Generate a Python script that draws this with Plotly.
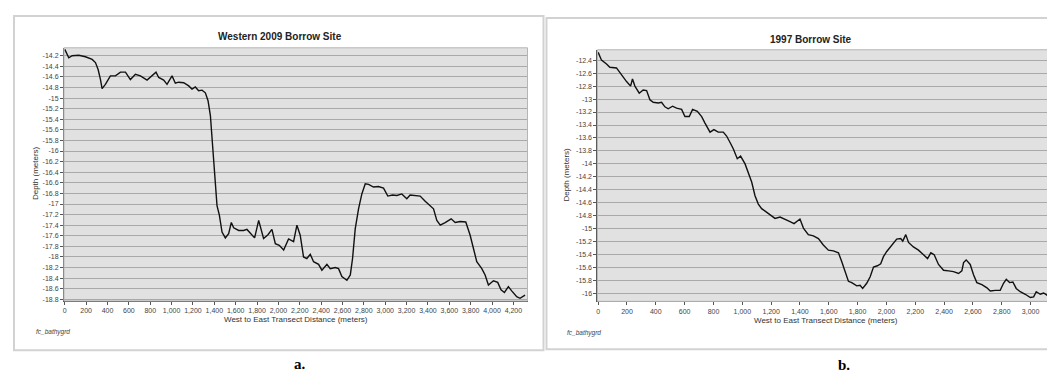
import plotly.graph_objects as go

# ---------------- data ----------------
dist_a = [0, 37, 69, 131, 193, 225, 256, 287, 312, 334, 349, 380, 427, 474, 521, 568,
          614, 661, 708, 770, 817, 854, 879, 926, 957, 1004, 1035, 1066, 1113, 1160,
          1191, 1222, 1253, 1285, 1316, 1341, 1363, 1378, 1394, 1410, 1425, 1447, 1472,
          1503, 1534, 1559, 1581, 1628, 1674, 1705, 1737, 1777, 1815, 1861, 1902, 1939,
          1971, 2008, 2049, 2095, 2142, 2173, 2204, 2235, 2266, 2298, 2329, 2376, 2407,
          2454, 2485, 2532, 2563, 2594, 2641, 2673, 2694, 2719, 2750, 2781, 2813, 2844,
          2890, 2937, 2984, 3024, 3068, 3109, 3155, 3202, 3233, 3280, 3327, 3374, 3421,
          3452, 3483, 3515, 3561, 3617, 3655, 3702, 3754, 3795, 3826, 3857, 3904, 3935,
          3966, 4013, 4053, 4084, 4116, 4153, 4184, 4231, 4262, 4309]
depth_a = [-14.08, -14.24, -14.20, -14.19, -14.22, -14.24, -14.27, -14.33, -14.46, -14.65,
           -14.82, -14.74, -14.58, -14.58, -14.51, -14.51, -14.65, -14.55, -14.58, -14.66,
           -14.58, -14.51, -14.61, -14.66, -14.74, -14.58, -14.72, -14.70, -14.71, -14.77,
           -14.83, -14.79, -14.86, -14.85, -14.90, -15.05, -15.33, -15.71, -16.15, -16.65,
           -17.03, -17.21, -17.53, -17.64, -17.56, -17.35, -17.45, -17.50, -17.50, -17.48,
           -17.56, -17.64, -17.31, -17.65, -17.58, -17.48, -17.75, -17.78, -17.87, -17.66,
           -17.71, -17.40, -17.59, -18.00, -18.03, -17.95, -18.09, -18.14, -18.25, -18.14,
           -18.22, -18.20, -18.22, -18.37, -18.44, -18.34, -18.03, -17.47, -17.09, -16.81,
           -16.62, -16.63, -16.68, -16.67, -16.70, -16.85, -16.83, -16.84, -16.81, -16.90,
           -16.83, -16.84, -16.85, -16.95, -17.03, -17.09, -17.31, -17.40, -17.35, -17.28,
           -17.35, -17.33, -17.34, -17.59, -17.84, -18.09, -18.22, -18.34, -18.53, -18.45,
           -18.48, -18.62, -18.67, -18.56, -18.64, -18.75, -18.78, -18.72]

dist_b = [0, 23, 58, 81, 127, 162, 197, 225, 238, 255, 285, 312, 336, 359, 382, 417, 440,
          463, 486, 516, 544, 579, 602, 632, 655, 688, 718, 741, 776, 803, 833, 868, 891,
          915, 938, 965, 988, 1019, 1042, 1065, 1088, 1111, 1134, 1157, 1192, 1227, 1262,
          1296, 1331, 1359, 1389, 1400, 1424, 1458, 1493, 1528, 1562, 1597, 1632, 1667,
          1690, 1713, 1736, 1759, 1794, 1817, 1835, 1863, 1887, 1910, 1937, 1960, 1979,
          2002, 2037, 2071, 2099, 2113, 2134, 2153, 2187, 2222, 2257, 2285, 2308, 2331,
          2361, 2396, 2431, 2465, 2500, 2523, 2535, 2553, 2581, 2604, 2627, 2662, 2697,
          2720, 2755, 2789, 2812, 2831, 2854, 2877, 2900, 2928, 2963, 2998, 3021, 3039,
          3067, 3090, 3118, 3148, 3171, 3183]
depth_b = [-12.28, -12.40, -12.46, -12.51, -12.52, -12.63, -12.73, -12.80, -12.69, -12.80,
           -12.91, -12.86, -12.87, -13.01, -13.05, -13.06, -13.05, -13.12, -13.15, -13.11,
           -13.14, -13.16, -13.27, -13.27, -13.16, -13.19, -13.27, -13.37, -13.51, -13.47,
           -13.51, -13.51, -13.57, -13.67, -13.77, -13.92, -13.88, -14.00, -14.13, -14.28,
           -14.49, -14.62, -14.69, -14.73, -14.79, -14.84, -14.82, -14.85, -14.89, -14.92,
           -14.87, -14.85, -14.99, -15.09, -15.11, -15.15, -15.25, -15.33, -15.34, -15.37,
           -15.51, -15.66, -15.81, -15.83, -15.88, -15.87, -15.92, -15.84, -15.74, -15.59,
           -15.57, -15.54, -15.43, -15.35, -15.26, -15.16, -15.15, -15.19, -15.09, -15.21,
           -15.28, -15.33, -15.40, -15.46, -15.37, -15.40, -15.55, -15.64, -15.65, -15.66,
           -15.69, -15.65, -15.52, -15.48, -15.55, -15.71, -15.83, -15.86, -15.91, -15.96,
           -15.95, -15.95, -15.84, -15.78, -15.83, -15.82, -15.92, -15.97, -16.01, -16.06,
           -16.05, -15.97, -16.01, -15.99, -16.03, -15.97, -16.07, -16.11]

title_a = "Western 2009 Borrow Site"
title_b = "1997 Borrow Site"
x_title = "West to East Transect Distance (meters)"
y_title = "Depth (meters)"
source_label = "fc_bathygrd"
panel_labels = ["a.", "b."]

x_ticks_a = list(range(0, 4201, 200))
x_ticks_b = list(range(0, 3001, 200))
y_ticks_a = [round(-14.2 - 0.2 * i, 1) for i in range(24)]
y_ticks_b = [round(-12.4 - 0.2 * i, 1) for i in range(19)]


def fmt_x(v):
    return f"{v:,}"


def fmt_y(v):
    s = f"{v:.1f}".rstrip("0").rstrip(".")
    return s


# ---------------- figure ----------------
W, H = 1055, 371
fig = go.Figure()

line_style = dict(color="#111111", width=1.4)
fig.add_trace(go.Scatter(x=dist_a, y=depth_a, mode="lines", line=line_style,
                         xaxis="x", yaxis="y", showlegend=False, hoverinfo="skip"))
fig.add_trace(go.Scatter(x=dist_b, y=depth_b, mode="lines", line=line_style,
                         xaxis="x2", yaxis="y2", showlegend=False, hoverinfo="skip"))


def px_x(p):
    return p / W


def px_y(p):
    return 1 - p / H


tick_font = dict(family="Liberation Sans, Arial", size=7, color="#444444")
common_x = dict(showgrid=False, zeroline=False, showline=True, linecolor="#555555",
                linewidth=1, ticks="outside", ticklen=3, tickcolor="#555555",
                tickfont=tick_font, fixedrange=True)
common_y = dict(showgrid=True, gridcolor="#a9a9a9", gridwidth=1, zeroline=False,
                showline=True, linecolor="#555555", linewidth=1, ticks="outside",
                ticklen=3, tickcolor="#555555", tickfont=tick_font, fixedrange=True)

# plot-area pixel boxes
A = dict(x0=55, x1=519, y0=40, y1=294.5)
B = dict(x0=589, x1=1050, y0=42, y1=295)

fig.update_layout(
    width=W, height=H,
    margin=dict(l=0, r=0, t=0, b=0),
    paper_bgcolor="white",
    plot_bgcolor="#e1e1e1",
    xaxis=dict(domain=[px_x(A["x0"]), px_x(A["x1"])], anchor="y", range=[-8, 4332],
               tickvals=x_ticks_a, ticktext=[fmt_x(v) for v in x_ticks_a], **common_x),
    yaxis=dict(domain=[px_y(A["y1"]), px_y(A["y0"])], anchor="x", range=[-18.83, -14.05],
               tickvals=y_ticks_a, ticktext=[fmt_y(v) for v in y_ticks_a], **common_y),
    xaxis2=dict(domain=[px_x(B["x0"]), px_x(B["x1"])], anchor="y2", range=[-5, 3190],
                tickvals=x_ticks_b, ticktext=[fmt_x(v) for v in x_ticks_b], **common_x),
    yaxis2=dict(domain=[px_y(B["y1"]), px_y(B["y0"])], anchor="x2", range=[-16.12, -12.24],
                tickvals=y_ticks_b, ticktext=[fmt_y(v) for v in y_ticks_b], **common_y),
)

shapes = []
# panel frames
for (x0, y0, x1, y1) in [(5, 8, 535, 344), (538, 10, 1052, 343)]:
    shapes.append(dict(type="rect", xref="paper", yref="paper",
                       x0=px_x(x0), x1=px_x(x1), y0=px_y(y1), y1=px_y(y0),
                       line=dict(color="#d2d2d2", width=2), fillcolor="rgba(0,0,0,0)",
                       layer="below"))
# plot-area outline
for P in (A, B):
    shapes.append(dict(type="rect", xref="paper", yref="paper",
                       x0=px_x(P["x0"]), x1=px_x(P["x1"]), y0=px_y(P["y1"]), y1=px_y(P["y0"]),
                       line=dict(color="#b5b5b5", width=1), fillcolor="rgba(0,0,0,0)",
                       layer="above"))
fig.update_layout(shapes=shapes)

ann = []
small = dict(family="Liberation Sans, Arial", size=8, color="#333333")
title_font = dict(family="Liberation Sans, Arial", size=10, color="#222222")

ann.append(dict(text="<b>" + title_a + "</b>", x=px_x(271), y=px_y(29), xref="paper", yref="paper",
                showarrow=False, font=title_font, xanchor="center", yanchor="middle"))
ann.append(dict(text="<b>" + title_b + "</b>", x=px_x(803), y=px_y(32), xref="paper", yref="paper",
                showarrow=False, font=title_font, xanchor="center", yanchor="middle"))

for cx, cy in [(287, 313), (818, 314)]:
    ann.append(dict(text=x_title, x=px_x(cx), y=px_y(cy), xref="paper", yref="paper",
                    showarrow=False, font=small, xanchor="center", yanchor="middle"))
for cx, cy in [(26, 166), (558, 167)]:
    ann.append(dict(text=y_title, x=px_x(cx), y=px_y(cy), xref="paper", yref="paper",
                    showarrow=False, font=small, textangle=-90,
                    xanchor="center", yanchor="middle"))
for cx, cy in [(25, 326), (557, 327)]:
    ann.append(dict(text="<i>" + source_label + "</i>", x=px_x(cx), y=px_y(cy),
                    xref="paper", yref="paper", showarrow=False,
                    font=dict(family="Liberation Sans, Arial", size=6.5, color="#444444"),
                    xanchor="left", yanchor="middle"))
for lbl, cx, cy in [(panel_labels[0], 291, 358), (panel_labels[1], 836, 359)]:
    ann.append(dict(text="<b>" + lbl + "</b>", x=px_x(cx), y=px_y(cy), xref="paper", yref="paper",
                    showarrow=False,
                    font=dict(family="Liberation Serif, Times New Roman", size=15, color="black"),
                    xanchor="center", yanchor="middle"))
fig.update_layout(annotations=ann)

fig.write_html("out.html")
